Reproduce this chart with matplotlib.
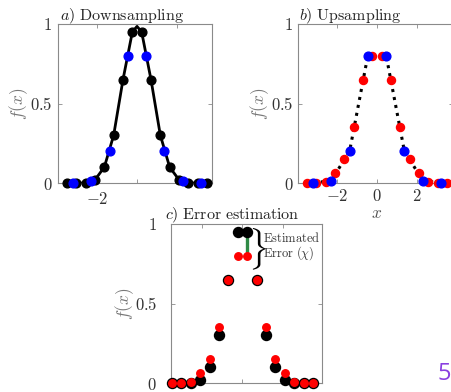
import matplotlib
matplotlib.use('Agg')
import matplotlib.pyplot as plt

plt.rcParams['mathtext.fontset'] = 'cm'
plt.rcParams['font.family'] = ['DejaVu Serif']

# echantillonnage fin (valeurs vraies) et grossier
fine_x = [-3.5, -3.033, -2.567, -2.1, -1.633, -1.167, -0.7, -0.233,
          0.233, 0.7, 1.167, 1.633, 2.1, 2.567, 3.033, 3.5]
true_y = [0, 0, 0, 0.02, 0.1, 0.3, 0.65, 0.95,
          0.95, 0.65, 0.3, 0.1, 0.02, 0, 0, 0]
# courbe continue (passe par le sommet en x = 0)
curve_x = [-3.5, -3.033, -2.567, -2.1, -1.633, -1.167, -0.7, -0.233, 0.0,
           0.233, 0.7, 1.167, 1.633, 2.1, 2.567, 3.033, 3.5]
curve_y = [0, 0, 0, 0.02, 0.1, 0.3, 0.65, 0.95, 0.985,
           0.95, 0.65, 0.3, 0.1, 0.02, 0, 0, 0]
coarse_x = [-3.2, -2.29, -1.37, -0.46, 0.46, 1.37, 2.29, 3.2]
coarse_y = [0, 0.015, 0.2, 0.8, 0.8, 0.2, 0.015, 0]
# valeurs reconstruites (upsampling lineaire)
up_y = [0, 0, 0.005, 0.06, 0.15, 0.35, 0.65, 0.8,
        0.8, 0.65, 0.35, 0.15, 0.06, 0.005, 0, 0]

x_ticks = [-2, 0, 2]
y_ticks = [0, 0.5, 1]
y_ticklabels = [r'$0$', r'$0.5$', r'$1$']

W, H = 452, 392
fig = plt.figure(figsize=(W / 100, H / 100), dpi=100)


def make_axes(l, t, r, b):
    return fig.add_axes([l / W, 1 - b / H, (r - l) / W, (b - t) / H])


def style(ax, xlim, ypad, xpad, xlabels):
    ax.set_xlim(*xlim)
    ax.set_ylim(0, 1)
    ax.set_xticks(x_ticks)
    ax.set_xticklabels(xlabels)
    ax.set_yticks(y_ticks)
    ax.set_yticklabels(y_ticklabels)
    for s in ax.spines.values():
        s.set_color('#8a8a8a')
        s.set_linewidth(0.8)
    ax.tick_params(axis='both', direction='in', length=3, width=0.6,
                   color='#8a8a8a', labelsize=12, labelcolor='#333333',
                   top=True, right=True)
    ax.tick_params(axis='y', pad=ypad)
    ax.tick_params(axis='x', pad=xpad)


lab = [r'$-2$', r'$0$', r'$2$']

# a) Downsampling
ax1 = make_axes(58, 24, 212, 183)
style(ax1, (-3.95, 3.75), 4, 6, [r'$-2$', '', ''])
ax1.plot(curve_x, curve_y, color='black', lw=2.0, zorder=2)
ax1.plot(fine_x, true_y, 'o', color='black', ms=6.3, clip_on=False, zorder=3)
ax1.plot(coarse_x, coarse_y, 'o', color='#0000ff', ms=6.3, clip_on=False, zorder=4)
ax1.text(0.013, 1.021, r'$a)\ \mathrm{Downsampling}$', transform=ax1.transAxes,
         fontsize=11.5, ha='left', va='baseline', color='#222222')
ax1.text(-0.256, 0.5, r'$f(x)$', transform=ax1.transAxes, rotation=90,
         ha='center', va='center', fontsize=12.5, color='#777777')

# b) Upsampling
ax2 = make_axes(298, 24, 453, 183)
style(ax2, (-3.95, 3.8), 3.5, 3.5, lab)
ax2.plot(coarse_x, coarse_y, ':', color='black', lw=2.2, zorder=2)
ax2.plot(fine_x, up_y, 'o', color='#ff0000', ms=5.8, clip_on=False, zorder=3)
ax2.plot(coarse_x, coarse_y, 'o', color='#0000ff', ms=6.3, clip_on=False, zorder=4)
ax2.text(0.006, 1.021, r'$b)\ \mathrm{Upsampling}$', transform=ax2.transAxes,
         fontsize=11.5, ha='left', va='baseline', color='#222222')
ax2.text(-0.248, 0.5, r'$f(x)$', transform=ax2.transAxes, rotation=90,
         ha='center', va='center', fontsize=12.5, color='#777777')
ax2.text(0.51, -0.19, r'$x$', transform=ax2.transAxes, ha='center',
         va='center', fontsize=12.5, color='#555555')

# c) Error estimation
ax3 = make_axes(171, 224, 322, 383)
style(ax3, (-3.55, 3.95), 10, 6, lab)
ax3.plot(fine_x, true_y, 'o', color='black', ms=7.2, clip_on=False, zorder=3)
ax3.plot(fine_x, up_y, 'o', color='#ff0000', ms=5.4, clip_on=False, zorder=4)
ax3.plot([fine_x[8], fine_x[8]], [up_y[8], true_y[8]], color='#2f8a45',
         lw=2.4, zorder=2)
ax3.text(0.75, 0.843, r'$\}$', fontsize=25, ha='center', va='center')
ax3.text(1.03, 0.912, r'$\mathrm{Estimated}$', fontsize=9, ha='left',
         va='center', color='#333333')
ax3.text(1.03, 0.818, r'$\mathrm{Error}\ (\chi)$', fontsize=9, ha='left',
         va='center', color='#333333')
ax3.text(-0.04, 1.028, r'$c)\ \mathrm{Error\ estimation}$', transform=ax3.transAxes,
         fontsize=11.5, ha='left', va='baseline', color='#222222')
ax3.text(-0.305, 0.5, r'$f(x)$', transform=ax3.transAxes, rotation=90,
         ha='center', va='center', fontsize=12.5, color='#777777')

# numero de page
fig.text(451 / W, 1 - 380 / H, '5', color='#8a3fe0', fontsize=17,
         family='Open Sans', ha='right', va='baseline')

fig.savefig('out.png', dpi=100)
